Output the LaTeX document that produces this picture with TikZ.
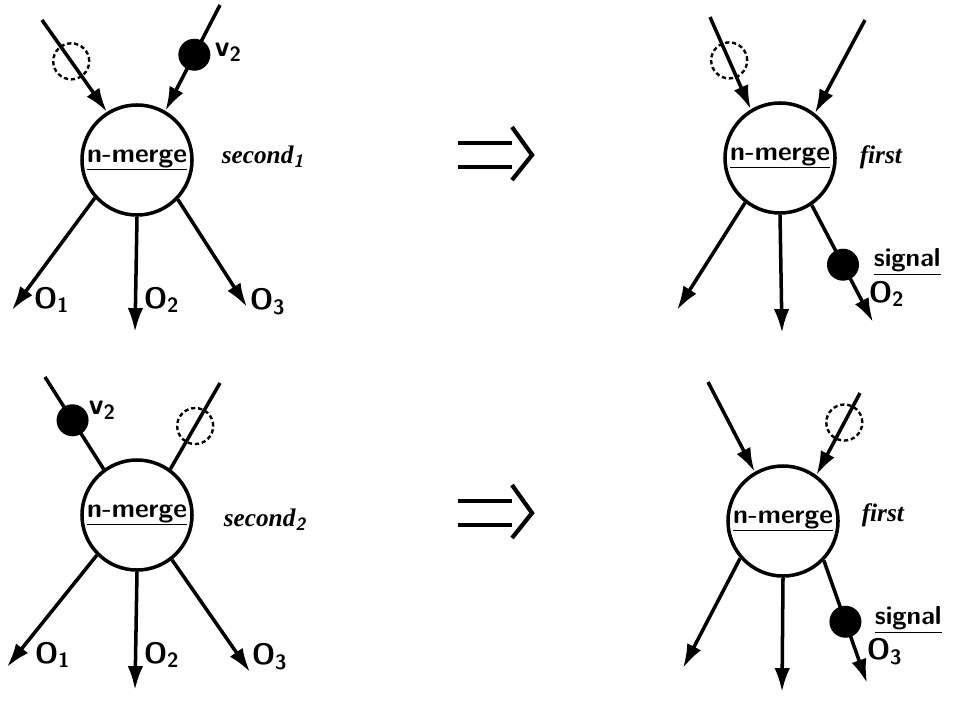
\documentclass[tikz,border=0pt]{standalone}
\usepackage{fontspec}
\usepackage{tikz}
\usetikzlibrary{arrows.meta}
\newfontfamily\italfont{Liberation Serif}

\begin{document}
\begin{tikzpicture}[x=0.025cm, y=-0.025cm, line width=2.5pt,
    merge/.style={circle, draw, line width=2.5pt, minimum size=2.75cm, inner sep=0pt,
        font=\fontsize{19}{21}\selectfont\sffamily\bfseries},
    arr/.style={-{Latex[length=17pt, width=11pt]}},
    full/.style={circle, fill, minimum size=0.8cm, inner sep=0pt},
    empty/.style={circle, draw, dashed, dash pattern=on 3pt off 2pt, line width=1.7pt,
        minimum size=0.9cm, inner sep=0pt},
    lbl/.style={anchor=west, inner sep=0pt, font=\fontsize{21}{23}\selectfont\sffamily\bfseries},
    sig/.style={anchor=west, inner sep=0pt, font=\fontsize{18.5}{20}\selectfont\sffamily\bfseries},
    rule/.style={anchor=west, inner sep=0pt, font=\fontsize{18}{20}\selectfont\italfont\bfseries\itshape}]

    \useasboundingbox (0,0) rectangle (957,700);

    % 1. Top left: second_1
    \node[merge] (m1) at (137,160) {\underline{n-merge}};
    \coordinate (i1a) at (42,20);
    \coordinate (i1b) at (220,5);
    \coordinate (o1a) at (12,310);
    \coordinate (o1b) at (135,332);
    \coordinate (o1c) at (247,307);
    \draw[arr] (i1a) -- node[pos=.45, empty] (t1a) {} (m1.122);
    \draw[arr] (i1b) -- node[pos=.47, full] (t1b) {} (m1.60);
    \draw[arr] (m1.222) -- (o1a);
    \draw[arr] (m1.-90) -- (o1b);
    \draw[arr] (m1.-44) -- (o1c);
    \node[lbl] (v1) at (213,52) {v\textsubscript{2}};
    \node[rule] (s1) at (220,157) {second\textsubscript{\sffamily 1}};
    \node[lbl] (l1a) at (32,300) {O\textsubscript{1}};
    \node[lbl] (l1b) at (142,300) {O\textsubscript{2}};
    \node[lbl] (l1c) at (248,302) {O\textsubscript{3}};

    % 2. Top right: first
    \node[merge] (m2) at (780,158) {\underline{n-merge}};
    \coordinate (i2a) at (710,17);
    \coordinate (i2b) at (865,20);
    \coordinate (o2a) at (677,310);
    \coordinate (o2b) at (782,333);
    \coordinate (o2c) at (873,322);
    \draw[arr] (i2a) -- node[pos=.47, empty] (t2a) {} (m2.121);
    \draw[arr] (i2b) -- (m2.52);
    \draw[arr] (m2.-128) -- (o2a);
    \draw[arr] (m2.-90) -- (o2b);
    \draw[arr] (m2.-56) -- node[pos=.51, full] (t2c) {} (o2c);
    \node[rule] (s2) at (858,157) {first};
    \node[sig] (g2) at (872,262) {\underline{signal}};
    \node[lbl] (l2c) at (867,294) {O\textsubscript{2}};

    % 3. Bottom left: second_2
    \node[merge] (m3) at (137,515) {\underline{n-merge}};
    \coordinate (i3a) at (45,377);
    \coordinate (i3b) at (220,383);
    \coordinate (o3a) at (7,667);
    \coordinate (o3b) at (135,690);
    \coordinate (o3c) at (250,672);
    \draw (i3a) -- node[pos=.47, full] (t3a) {} (m3.126);
    \draw (i3b) -- node[pos=.5, empty] (t3b) {} (m3.54);
    \draw[arr] (m3.-135) -- (o3a);
    \draw[arr] (m3.-90) -- (o3b);
    \draw[arr] (m3.-52) -- (o3c);
    \node[lbl] (v3) at (87,410) {v\textsubscript{2}};
    \node[rule] (s3) at (222,520) {second\textsubscript{\sffamily 2}};
    \node[lbl] (l3a) at (33,655) {O\textsubscript{1}};
    \node[lbl] (l3b) at (142,655) {O\textsubscript{2}};
    \node[lbl] (l3c) at (250,657) {O\textsubscript{3}};

    % 4. Bottom right: first
    \node[merge] (m4) at (783,521) {\underline{n-merge}};
    \coordinate (i4a) at (708,382);
    \coordinate (i4b) at (860,393);
    \coordinate (o4a) at (683,668);
    \coordinate (o4b) at (782,692);
    \coordinate (o4c) at (867,683);
    \draw[arr] (i4a) -- (m4.120);
    \draw[arr] (i4b) -- node[pos=.36, empty] (t4b) {} (m4.54);
    \draw[arr] (m4.-139) -- (o4a);
    \draw[arr] (m4.-90) -- (o4b);
    \draw[arr] (m4.-44) -- node[pos=.5, full] (t4c) {} (o4c);
    \node[rule] (s4) at (860,515) {first};
    \node[sig] (g4) at (873,620) {\underline{signal}};
    \node[lbl] (l4c) at (865,652) {O\textsubscript{3}};

    % 5. The two implication arrows
    \foreach \dy/\nm in {0/a, 358/b} {
        \coordinate (p\nm1) at (458,143+\dy);
        \coordinate (p\nm2) at (512,143+\dy);
        \coordinate (p\nm3) at (458,167+\dy);
        \coordinate (p\nm4) at (512,167+\dy);
        \coordinate (p\nm5) at (512,127+\dy);
        \coordinate (p\nm6) at (532,155+\dy);
        \coordinate (p\nm7) at (512,180+\dy);
        \draw[line width=3pt] (p\nm1) -- (p\nm2);
        \draw[line width=3pt] (p\nm3) -- (p\nm4);
        \draw[line width=3pt, line join=miter] (p\nm5) -- (p\nm6) -- (p\nm7);
    }

\end{tikzpicture}
\end{document}
